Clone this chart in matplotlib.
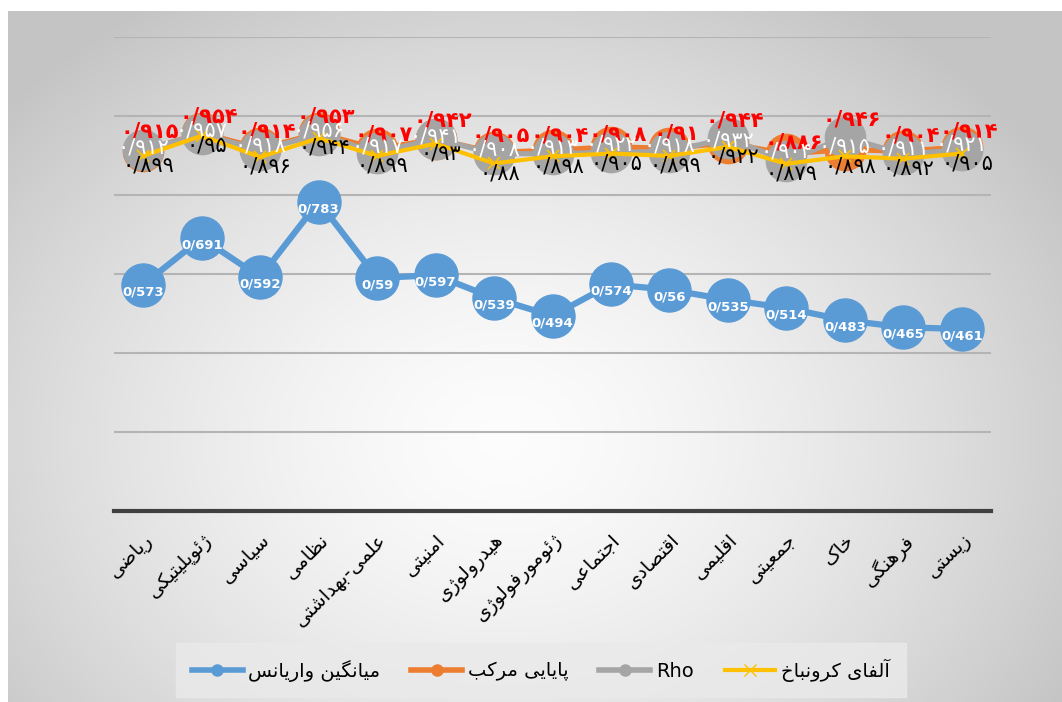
import numpy as np
import matplotlib
matplotlib.use("Agg")
import matplotlib.pyplot as plt
from matplotlib.lines import Line2D

# داده‌ها
categories = ["ریاضی", "ژئوپلیتیکی", "سیاسی", "نظامی", "علمی-بهداشتی", "امنیتی",
              "هیدرولوژی", "ژئومورفولوژی", "اجتماعی", "اقتصادی", "اقلیمی",
              "جمعیتی", "خاک", "فرهنگی", "زیستی"]
series_names = ["میانگین واریانس", "پایایی مرکب", "Rho", "آلفای کرونباخ"]

ave = [0.573, 0.691, 0.592, 0.783, 0.59, 0.597, 0.539, 0.494, 0.574, 0.56,
       0.535, 0.514, 0.483, 0.465, 0.461]
composite = [0.912, 0.957, 0.918, 0.956, 0.917, 0.941, 0.908, 0.913, 0.922, 0.918,
             0.932, 0.904, 0.915, 0.911, 0.921]
rho = [0.915, 0.954, 0.914, 0.953, 0.907, 0.942, 0.905, 0.904, 0.908, 0.91,
       0.944, 0.886, 0.946, 0.904, 0.914]
alpha = [0.899, 0.95, 0.896, 0.944, 0.899, 0.93, 0.88, 0.898, 0.905, 0.899,
         0.922, 0.879, 0.898, 0.892, 0.905]

# matplotlib حروف فارسی را نمی‌چسباند، پس اشکال نمایشی را دستی می‌سازیم
FORMS = {
    'ا': ('\uFE8D', '\uFE8E', None, None), 'آ': ('\uFE81', '\uFE82', None, None),
    'ب': ('\uFE8F', '\uFE90', '\uFE91', '\uFE92'), 'پ': ('\uFB56', '\uFB57', '\uFB58', '\uFB59'),
    'ت': ('\uFE95', '\uFE96', '\uFE97', '\uFE98'), 'ج': ('\uFE9D', '\uFE9E', '\uFE9F', '\uFEA0'),
    'خ': ('\uFEA5', '\uFEA6', '\uFEA7', '\uFEA8'), 'د': ('\uFEA9', '\uFEAA', None, None),
    'ر': ('\uFEAD', '\uFEAE', None, None), 'ز': ('\uFEAF', '\uFEB0', None, None),
    'ژ': ('\uFB8A', '\uFB8B', None, None), 'س': ('\uFEB1', '\uFEB2', '\uFEB3', '\uFEB4'),
    'ش': ('\uFEB5', '\uFEB6', '\uFEB7', '\uFEB8'), 'ص': ('\uFEB9', '\uFEBA', '\uFEBB', '\uFEBC'),
    'ض': ('\uFEBD', '\uFEBE', '\uFEBF', '\uFEC0'), 'ظ': ('\uFEC5', '\uFEC6', '\uFEC7', '\uFEC8'),
    'ع': ('\uFEC9', '\uFECA', '\uFECB', '\uFECC'), 'ف': ('\uFED1', '\uFED2', '\uFED3', '\uFED4'),
    'ق': ('\uFED5', '\uFED6', '\uFED7', '\uFED8'), 'ک': ('\uFB8E', '\uFB8F', '\uFB90', '\uFB91'),
    'گ': ('\uFB92', '\uFB93', '\uFB94', '\uFB95'), 'ل': ('\uFEDD', '\uFEDE', '\uFEDF', '\uFEE0'),
    'م': ('\uFEE1', '\uFEE2', '\uFEE3', '\uFEE4'), 'ن': ('\uFEE5', '\uFEE6', '\uFEE7', '\uFEE8'),
    'و': ('\uFEED', '\uFEEE', None, None), 'ه': ('\uFEE9', '\uFEEA', '\uFEEB', '\uFEEC'),
    'ی': ('\uFBFC', '\uFBFD', '\uFBFE', '\uFBFF'), 'ئ': ('\uFE89', '\uFE8A', '\uFE8B', '\uFE8C'),
}


def fa(word):
    if not any(c in FORMS for c in word):
        return word
    out = []
    for i, c in enumerate(word):
        f = FORMS.get(c)
        if f is None:
            out.append(c)
            continue
        prev = word[i - 1] if i > 0 else ''
        nxt = word[i + 1] if i < len(word) - 1 else ''
        jp = prev in FORMS and FORMS[prev][2] is not None
        jn = f[2] is not None and nxt in FORMS
        out.append(f[3] if jp and jn else f[1] if jp else f[2] if jn else f[0])
    return ''.join(reversed(out))


def fa_num(v):
    return str(v).replace('0.', '0/').translate(str.maketrans('0123456789', '۰۱۲۳۴۵۶۷۸۹'))


fig = plt.figure(figsize=(10.62, 7.02), dpi=100)
fig.patch.set_facecolor('white')

# پس‌زمینه‌ی گرادیانی
bg = fig.add_axes([8 / 1062, 0, 1 - 8 / 1062, 1 - 11 / 702], zorder=-10)
yy, xx = np.mgrid[0:1:300j, 0:1:450j]
r = np.sqrt(((xx - 0.47) / 0.62) ** 2 + ((yy - 0.62) / 0.75) ** 2)
shade = 0.99 - 0.22 * np.clip(r, 0, 1) ** 1.5
bg.imshow(np.dstack([shade] * 3), aspect='auto', extent=[0, 1, 0, 1], origin='upper')
bg.axis('off')

ax = fig.add_axes([114 / 1062, 1 - 511 / 702, (991 - 114) / 1062, (511 - 37) / 702])
ax.patch.set_alpha(0)
x = np.arange(len(categories))

ax.plot(x, ave, color='#5b9bd5', lw=4.5, marker='o', ms=31, zorder=3)
ax.plot(x, composite, color='#ed7d31', lw=3.8, marker='o', ms=29, zorder=4)
ax.plot(x, rho, color='#a5a5a5', lw=3.8, marker='o', ms=29, zorder=5)
ax.plot(x, alpha, color='#ffc000', lw=3, marker='x', ms=8, mew=1.2, zorder=6)

for i in x:
    ax.annotate(str(ave[i]).replace('0.', '0/'), (i, ave[i]), xytext=(0, -5), textcoords='offset points',
                ha='center', va='center', color='white', fontweight='bold', fontsize=9.5, zorder=10)
    ax.annotate(fa_num(rho[i]), (i, rho[i]), xytext=(5, 13), textcoords='offset points',
                ha='center', va='center', color='#ff0000', fontweight='bold', fontsize=15, zorder=10)
    ax.annotate(fa_num(composite[i]), (i, composite[i]), xytext=(0, 2), textcoords='offset points',
                ha='center', va='center', color='white', fontsize=15, zorder=10)
    ax.annotate(fa_num(alpha[i]), (i, alpha[i]), xytext=(4, -7), textcoords='offset points',
                ha='center', va='center', color='black', fontsize=15, zorder=10)

ax.set_xlim(-0.5, len(categories) - 0.5)
ax.set_ylim(0, 1.2)
ax.set_yticks([0.2, 0.4, 0.6, 0.8, 1.0, 1.2])
ax.yaxis.grid(True, color='#b4b4b4', lw=1.5)
ax.set_axisbelow(True)
ax.tick_params(axis='y', length=0, labelleft=False)
for s in ['top', 'left', 'right']:
    ax.spines[s].set_visible(False)
ax.spines['bottom'].set_color('#404040')
ax.spines['bottom'].set_linewidth(3)

ax.set_xticks(x)
ax.set_xticklabels([fa(c) for c in categories], rotation=45, ha='right', va='top',
                   rotation_mode='anchor', fontsize=14)
ax.tick_params(axis='x', length=0, pad=14)

handles = [
    Line2D([], [], color='#5b9bd5', lw=4, marker='o', ms=8),
    Line2D([], [], color='#ed7d31', lw=4, marker='o', ms=8),
    Line2D([], [], color='#a5a5a5', lw=4, marker='o', ms=8),
    Line2D([], [], color='#ffc000', lw=3, marker='x', ms=8, mew=1),
]
leg = ax.legend(handles, [fa(n) for n in series_names], loc='center',
                bbox_to_anchor=(541 / 1062, 1 - 670 / 702), bbox_transform=fig.transFigure,
                ncol=4, fontsize=14, frameon=True, fancybox=False, handlelength=2.6,
                handletextpad=0.3, columnspacing=1.6, borderpad=0.8)
leg.get_frame().set_facecolor('#eaeaea')
leg.get_frame().set_edgecolor('#eaeaea')

fig.savefig('out.png', dpi=100)
